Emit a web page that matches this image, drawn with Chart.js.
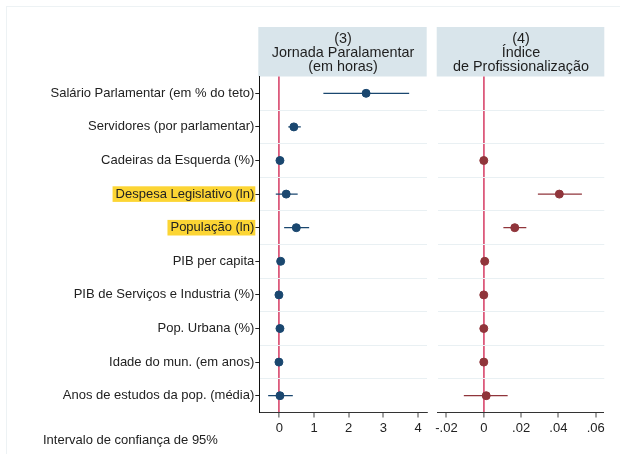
<!DOCTYPE html>
<html>
<head>
<meta charset="utf-8">
<script src="https://cdn.jsdelivr.net/npm/chart.js@4.4.1/dist/chart.umd.min.js"></script>
<style>
  body { margin: 0; background: #fff; }
  #wrap { position: relative; width: 620px; height: 454px; overflow: hidden; font-family: "Liberation Sans", Arial, sans-serif; }
  #frame { position: absolute; left: 6px; top: 6px; right: 0; bottom: 0; border-left: 1px solid #edf2f4; border-top: 1px solid #edf2f4; }
  #left { position: absolute; left: 0; top: 0; }
  #right { position: absolute; left: 432px; top: 0; }
  #note { position: absolute; left: 43px; top: 432px; font-size: 13px; line-height: 15px; color: #222; }
</style>
</head>
<body>
<div id="wrap">
  <div id="frame"></div>
  <canvas id="left" width="432" height="454"></canvas>
  <canvas id="right" width="188" height="454"></canvas>
  <div id="note">Intervalo de confiança de 95%</div>
</div>
<script>
// Categories (top to bottom)
const cats = [
    'Salário Parlamentar (em % do teto)',
    'Servidores (por parlamentar)',
    'Cadeiras da Esquerda (%)',
    'Despesa Legislativo (ln)',
    'População (ln)',
    'PIB per capita',
    'PIB de Serviços e Industria (%)',
    'Pop. Urbana (%)',
    'Idade do mun. (em anos)',
    'Anos de estudos da pop. (média)'
];
const highlighted = ['Despesa Legislativo (ln)', 'População (ln)'];

// Panel titles
const header3 = ['(3)', 'Jornada Paralamentar', '(em horas)'];
const header4 = ['(4)', 'Índice', 'de Profissionalização'];

// (3) Jornada Paralamentar: coefficient and 95% CI
const jornadaCoef = [2.50, 0.42, 0.02, 0.20, 0.49, 0.04, -0.01, 0.02, -0.01, 0.02];
const jornadaLo   = [1.27, 0.26, 0.00, -0.10, 0.14, 0.02, -0.03, 0.00, -0.03, -0.32];
const jornadaHi   = [3.74, 0.62, 0.04, 0.53, 0.86, 0.06, 0.01, 0.04, 0.01, 0.39];

// (4) Índice de Profissionalização: coefficient and 95% CI
const indiceCoef = [null, null, 0.0000, 0.0405, 0.0166, 0.0005, 0.0000, 0.0000, 0.0000, 0.0013];
const indiceLo   = [null, null, -0.0005, 0.0290, 0.0105, 0.0000, -0.0005, -0.0005, -0.0005, -0.0107];
const indiceHi   = [null, null, 0.0005, 0.0526, 0.0228, 0.0010, 0.0005, 0.0005, 0.0005, 0.0128];

// Tick labels
const ticks3 = [0, 1, 2, 3, 4];
const ticks4 = [-0.02, 0, 0.02, 0.04, 0.06];

const FONT = '"Liberation Sans", Arial, sans-serif';
const NAVY = '#1a476f';
const MAROON = '#90353b';
const ZERO_LINE = '#dc5a7c';
const GRID = '#e9f0f3';

// Draws the grey-blue title box above each panel
const headerPlugin = {
    id: 'header',
    beforeDraw(chart, args, opts) {
        const { ctx, chartArea } = chart;
        ctx.save();
        ctx.fillStyle = '#d9e5eb';
        ctx.fillRect(chartArea.left - 1, 27, chartArea.right - chartArea.left + 1, chartArea.top - 27);
        ctx.fillStyle = '#1e1e1e';
        ctx.font = '14.4px ' + FONT;
        ctx.textAlign = 'center';
        ctx.textBaseline = 'middle';
        const cx = (chartArea.left + chartArea.right) / 2;
        opts.lines.forEach((t, k) => ctx.fillText(t, cx, 39.5 + k * 13.6));
        ctx.restore();
    }
};

function buildDatasets(coef, lo, hi, color) {
    const sets = [];
    cats.forEach((c, i) => {
        if (coef[i] === null) return;
        sets.push({
            data: [{ x: lo[i], y: i }, { x: hi[i], y: i }],
            showLine: true,
            borderColor: color,
            borderWidth: 1.3,
            pointRadius: 0,
            order: 1
        });
    });
    sets.push({
        data: coef.map((v, i) => (v === null ? null : { x: v, y: i })).filter(Boolean),
        backgroundColor: color,
        borderColor: color,
        pointRadius: 4,
        order: 0
    });
    return sets;
}

function xScale(min, max, tickValues, fmt) {
    return {
        type: 'linear',
        min: min,
        max: max,
        afterBuildTicks: (axis) => { axis.ticks = tickValues.map(v => ({ value: v })); },
        afterFit: (axis) => { axis.height = 41.5; },
        border: { color: '#333', width: 1 },
        grid: {
            color: (ctx) => (ctx.tick && ctx.tick.value === 0 ? ZERO_LINE : 'rgba(0,0,0,0)'),
            lineWidth: (ctx) => (ctx.tick && ctx.tick.value === 0 ? 1.8 : 0),
            tickColor: '#444',
            tickWidth: 1,
            tickLength: 5
        },
        ticks: {
            color: '#222',
            font: { family: FONT, size: 13 },
            padding: 3,
            maxRotation: 0,
            callback: fmt
        }
    };
}

function midGridScale(position) {
    return {
        type: 'linear',
        position: position,
        min: -0.5,
        max: 9.5,
        reverse: true,
        afterBuildTicks: (axis) => { axis.ticks = cats.slice(1).map((c, i) => ({ value: i + 0.5 })); },
        afterFit: (axis) => { axis.width = 0; },
        border: { display: false },
        grid: { color: GRID, lineWidth: 1, drawTicks: false },
        ticks: { display: false }
    };
}

const baseOptions = {
    responsive: false,
    animation: false,
    events: [],
    plugins: { legend: { display: false }, tooltip: { enabled: false } }
};

// Left panel: (3) Jornada Paralamentar, with category labels
new Chart(document.getElementById('left'), {
    type: 'scatter',
    data: { datasets: buildDatasets(jornadaCoef, jornadaLo, jornadaHi, NAVY) },
    options: {
        ...baseOptions,
        layout: { padding: { top: 76.5, left: 0, right: 5.3, bottom: 0 } },
        plugins: { ...baseOptions.plugins, header: { lines: header3 } },
        scales: {
            x: xScale(-0.575, 4.245, ticks3, (v) => String(v)),
            y: {
                type: 'linear',
                min: -0.5,
                max: 9.5,
                reverse: true,
                afterBuildTicks: (axis) => { axis.ticks = cats.map((c, i) => ({ value: i })); },
                afterFit: (axis) => { axis.width = 259.3; },
                border: { color: '#111', width: 1 },
                grid: { drawOnChartArea: false, tickColor: '#222', tickLength: 4 },
                ticks: {
                    color: '#222',
                    font: { family: FONT, size: 13 },
                    padding: 1,
                    callback: (v) => cats[v],
                    showLabelBackdrop: (ctx) => highlighted.includes(cats[ctx.index]),
                    backdropColor: '#fcd534',
                    backdropPadding: { left: 3, right: 1, top: 0, bottom: 0 }
                }
            },
            yg: midGridScale('right')
        }
    },
    plugins: [headerPlugin]
});

// Right panel: (4) Índice de Profissionalização
new Chart(document.getElementById('right'), {
    type: 'scatter',
    data: { datasets: buildDatasets(indiceCoef, indiceLo, indiceHi, MAROON) },
    options: {
        ...baseOptions,
        layout: { padding: { top: 76.5, left: 5.3, right: 15.7, bottom: 0 } },
        plugins: { ...baseOptions.plugins, header: { lines: header4 } },
        scales: {
            x: xScale(-0.0247, 0.0646, ticks4, (v) => {
                if (v === 0) return '0';
                return v.toFixed(2).replace('0.', '.');
            }),
            y: midGridScale('left')
        }
    },
    plugins: [headerPlugin]
});
</script>
</body>
</html>
